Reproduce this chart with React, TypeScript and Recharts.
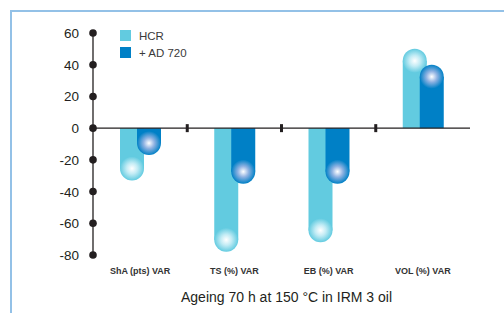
import { Bar, BarChart, Label, ReferenceLine, XAxis, YAxis } from "recharts";

const categories = ["ShA (pts) VAR", "TS (%) VAR", "EB (%) VAR", "VOL (%) VAR"];
const hcrValues = [-33, -78, -72, 50];
const ad720Values = [-17, -35, -35, 40];
const yTicks = [-80, -60, -40, -20, 0, 20, 40, 60];

const HCR_COLOR = "#62cbe0";
const AD_COLOR = "#0080c6";
const INK = "#231f20";

const data = categories.map((name, i) => ({
  name,
  hcr: hcrValues[i],
  ad720: ad720Values[i],
}));

const legendItems = [
  { label: "HCR", color: HCR_COLOR },
  { label: "+ AD 720", color: AD_COLOR },
];

// Bar with a rounded end and a glossy sphere highlight at the tip
function makeCapsule(key: "hcr" | "ad720", gradId: string) {
  return (props: any) => {
    const { x, y, width, height, fill, payload } = props;
    const v = payload[key];
    const top = Math.min(y, y + height);
    const bottom = Math.max(y, y + height);
    const r = width / 2;
    const cx = x + r;
    if (v >= 0) {
      const cy = top + r;
      return (
        <g>
          <rect x={x} y={cy} width={width} height={Math.max(bottom - cy, 0)} fill={fill} />
          <circle cx={cx} cy={cy} r={r} fill={`url(#${gradId})`} />
        </g>
      );
    }
    const cy = bottom - r;
    return (
      <g>
        <rect x={x} y={top} width={width} height={Math.max(cy - top, 0)} fill={fill} />
        <circle cx={cx} cy={cy} r={r} fill={`url(#${gradId})`} />
      </g>
    );
  };
}

// zero line with small marks on the boundaries between categories
function ZeroLine(props: any) {
  const { x1, y1, x2 } = props;
  const step = (x2 - x1) / categories.length;
  return (
    <g>
      <line x1={x1} y1={y1} x2={x2} y2={y1} stroke={INK} strokeWidth={1.3} />
      {categories.slice(1).map((c, i) => (
        <rect key={c} x={x1 + step * (i + 1) - 1.5} y={y1 - 4} width={3} height={8} fill={INK} />
      ))}
    </g>
  );
}

function YTick(props: any) {
  const { x, y, payload } = props;
  return (
    <g>
      <circle cx={x} cy={y} r={3.8} fill={INK} />
      <text
        x={x - 14}
        y={y}
        dy={5}
        textAnchor="end"
        fontSize={13.5}
        fill={INK}
        fontFamily="Liberation Sans, Arial, sans-serif"
      >
        {payload.value}
      </text>
    </g>
  );
}

function XTick(props: any) {
  const { x, y, payload } = props;
  return (
    <text
      x={x}
      y={y}
      dy={11}
      textAnchor="middle"
      fontSize={9}
      fontWeight={600}
      fill="#333"
      fontFamily="Liberation Sans, Arial, sans-serif"
    >
      {payload.value}
    </text>
  );
}

export default function App() {
  return (
    <div style={{ position: "absolute", left: 0, top: 0, width: 504, height: 313, background: "#fff" }}>
      <div
        style={{
          position: "absolute",
          left: 10,
          top: 10,
          right: 0,
          bottom: 0,
          borderTop: "2px solid #93c1e7",
          borderLeft: "2px solid #93c1e7",
        }}
      />
      <BarChart
        width={504}
        height={313}
        data={data}
        margin={{ top: 33, right: 34, bottom: 0, left: 0 }}
        barSize={24}
        barGap={-7}
        barCategoryGap={0}
        style={{ position: "absolute", left: 0, top: 0 }}
      >
        <defs>
          <radialGradient id="gHcr" cx="50%" cy="50%" r="50%">
            <stop offset="0%" stopColor="#ffffff" />
            <stop offset="45%" stopColor="#c3ecf5" />
            <stop offset="100%" stopColor={HCR_COLOR} />
          </radialGradient>
          <radialGradient id="gAd" cx="50%" cy="50%" r="50%">
            <stop offset="0%" stopColor="#ffffff" />
            <stop offset="45%" stopColor="#8fb2e2" />
            <stop offset="100%" stopColor={AD_COLOR} />
          </radialGradient>
        </defs>
        <XAxis
          dataKey="name"
          height={58}
          axisLine={false}
          tickLine={false}
          tick={<XTick />}
          interval={0}
        >
          <Label
            value="Ageing 70 h at 150 °C in IRM 3 oil"
            position="insideBottom"
            offset={11}
            dx={5}
            style={{ fontSize: 14, fill: INK, fontFamily: "Liberation Sans, Arial, sans-serif" }}
          />
        </XAxis>
        <YAxis
          width={93}
          domain={[-80, 60]}
          ticks={yTicks}
          interval={0}
          tickSize={0}
          tickMargin={0}
          tickLine={false}
          axisLine={{ stroke: INK, strokeWidth: 1.3 }}
          tick={<YTick />}
        />
        <ReferenceLine y={0} shape={<ZeroLine />} />
        <Bar dataKey="hcr" fill={HCR_COLOR} isAnimationActive={false} shape={makeCapsule("hcr", "gHcr")} />
        <Bar dataKey="ad720" fill={AD_COLOR} isAnimationActive={false} shape={makeCapsule("ad720", "gAd")} />
      </BarChart>
      <div
        style={{
          position: "absolute",
          left: 120,
          top: 27,
          fontFamily: "Liberation Sans, Arial, sans-serif",
        }}
      >
        {legendItems.map((it) => (
          <div
            key={it.label}
            style={{ display: "flex", alignItems: "center", height: 17, fontSize: 11.5, color: "#3a3a3a" }}
          >
            <span style={{ width: 11, height: 11, background: it.color, marginRight: 8 }} />
            {it.label}
          </div>
        ))}
      </div>
    </div>
  );
}
